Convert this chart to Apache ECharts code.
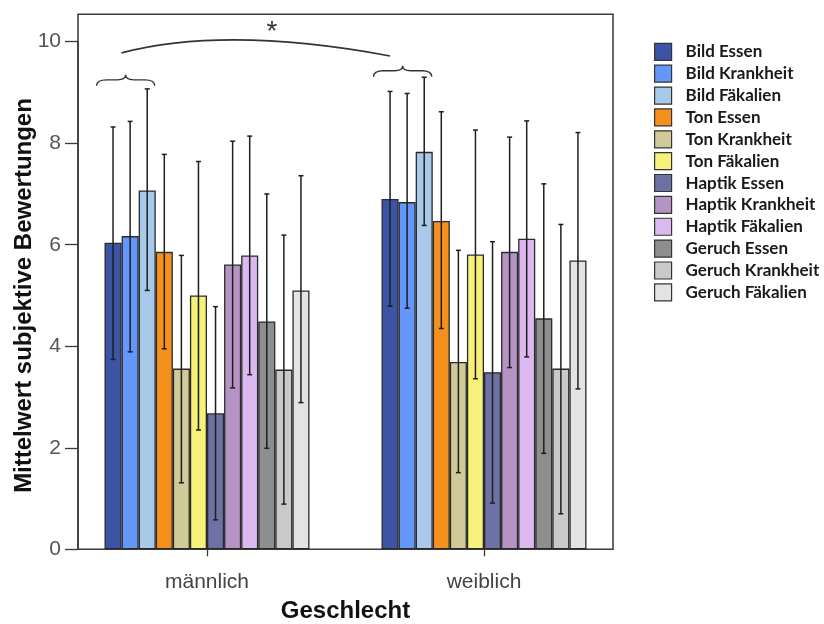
<!DOCTYPE html>
<html>
<head>
<meta charset="utf-8">
<script src="https://cdn.jsdelivr.net/npm/echarts@6/dist/echarts.min.js"></script>
<style>html,body{margin:0;padding:0;background:#fff;}#c{width:824px;height:624px;}</style>
</head>
<body>
<div id="c"></div>
<script>
// ---- data ----
const categories = ['männlich', 'weiblich'];
const seriesNames = ['Bild Essen','Bild Krankheit','Bild Fäkalien','Ton Essen','Ton Krankheit','Ton Fäkalien',
  'Haptik Essen','Haptik Krankheit','Haptik Fäkalien','Geruch Essen','Geruch Krankheit','Geruch Fäkalien'];
const meansMaennlich = [6.04, 6.17, 7.07, 5.86, 3.56, 5.00, 2.68, 5.61, 5.79, 4.49, 3.54, 5.10];
const meansWeiblich  = [6.90, 6.84, 7.83, 6.47, 3.69, 5.81, 3.49, 5.86, 6.12, 4.55, 3.56, 5.69];
const errHighMaennlich = [8.32, 8.43, 9.07, 7.78, 5.79, 7.64, 4.78, 8.04, 8.14, 7.00, 6.19, 7.36];
const errLowMaennlich  = [3.74, 3.89, 5.10, 3.95, 1.31, 2.35, 0.58, 3.18, 3.44, 1.99, 0.89, 2.89];
const errHighWeiblich  = [9.02, 8.98, 9.30, 8.62, 5.89, 8.26, 6.06, 8.12, 8.44, 7.20, 6.40, 8.21];
const errLowWeiblich   = [4.79, 4.75, 6.38, 4.35, 1.51, 3.36, 0.91, 3.58, 3.79, 1.89, 0.70, 3.16];
const yTicks = [0, 2, 4, 6, 8, 10];
// annotation levels (axis values)
const braceLevels = [9.13, 9.31];
const arcLevels = [9.78, 9.72];
const arcControlLevel = 10.32;
const starLevel = 10.31;

// ---- styles ----
const colors = ['#3c54a6','#6397fb','#a8c9e9','#f5901c','#cfca97','#f7f17a',
  '#6e71a4','#b693c5','#dcb8f1','#8e8e8e','#c9c9c9','#e3e3e3'];
const GAP = 0.26;
const N = seriesNames.length;

function barGeom(api, c, s) {
  const base = api.coord([c, 0]);
  const band = api.size([1, 0])[0];
  const groupW = band * (1 - GAP);
  const bw = groupW / N;
  const left = base[0] - groupW / 2 + s * bw;
  return {left: left, right: left + bw, center: left + bw / 2};
}

function errRender(params, api) {
  const c = api.value(0), s = api.value(1);
  const g = barGeom(api, c, s);
  const yh = api.coord([c, api.value(3)])[1];
  const yl = api.coord([c, api.value(2)])[1];
  const st = {stroke: '#1e1e1e', lineWidth: 1.5, fill: null};
  const x = g.center;
  return {type: 'group', children: [
    {type: 'line', shape: {x1: x, y1: yh, x2: x, y2: yl}, style: st},
    {type: 'line', shape: {x1: x - 2.5, y1: yh, x2: x + 2.5, y2: yh}, style: st},
    {type: 'line', shape: {x1: x - 2.5, y1: yl, x2: x + 2.5, y2: yl}, style: st}
  ]};
}

function annoRender(params, api) {
  const children = [];
  const st = {stroke: '#333', lineWidth: 1.4, fill: null};
  for (let c = 0; c < 2; c++) {
    const x0 = barGeom(api, c, 0).left - 8;
    const x1 = barGeom(api, c, 2).right - 1;
    const xc = (x0 + x1) / 2;
    const yb = api.coord([c, braceLevels[c]])[1];
    const ym = yb - 6, yt = yb - 11;
    const d = 'M' + x0 + ' ' + yb + ' Q' + x0 + ' ' + ym + ' ' + (x0 + 10) + ' ' + ym +
      ' L' + (xc - 8) + ' ' + ym + ' Q' + xc + ' ' + ym + ' ' + xc + ' ' + yt +
      ' Q' + xc + ' ' + ym + ' ' + (xc + 8) + ' ' + ym +
      ' L' + (x1 - 10) + ' ' + ym + ' Q' + x1 + ' ' + ym + ' ' + x1 + ' ' + yb;
    children.push({type: 'path', shape: {pathData: d}, style: st});
  }
  const sx = barGeom(api, 0, 1).left;
  const ex = barGeom(api, 1, 0).center;
  const sy = api.coord([0, arcLevels[0]])[1];
  const ey = api.coord([1, arcLevels[1]])[1];
  const cy = api.coord([0, arcControlLevel])[1];
  children.push({type: 'bezierCurve', shape: {x1: sx, y1: sy, x2: ex, y2: ey, cpx1: sx + 0.39 * (ex - sx), cpy1: cy},
    style: {stroke: '#333', lineWidth: 1.6, fill: null}});
  children.push({type: 'text', style: {text: '*', x: sx + 0.56 * (ex - sx), y: api.coord([0, starLevel])[1] + 6,
    fill: '#333', font: '28px "Liberation Sans"', align: 'center', verticalAlign: 'middle'}});
  return {type: 'group', children: children};
}

const barSeries = seriesNames.map((name, s) => ({
  name: name, type: 'bar', xAxisIndex: 0, yAxisIndex: 0,
  data: [meansMaennlich[s], meansWeiblich[s]],
  barGap: '0%', barCategoryGap: (GAP * 100) + '%',
  itemStyle: {color: colors[s], borderColor: '#2a2a2a', borderWidth: 1.3},
  emphasis: {disabled: true}, animation: false
}));

const errData = [];
for (let s = 0; s < N; s++) {
  errData.push([0, s, errLowMaennlich[s], errHighMaennlich[s]]);
  errData.push([1, s, errLowWeiblich[s], errHighWeiblich[s]]);
}

const chart = echarts.init(document.getElementById('c'), null, {renderer: 'canvas'});
chart.setOption({
  animation: false,
  backgroundColor: '#fff',
  grid: [
    {left: 68.5, right: 201.5, top: 41.7, bottom: 74.7, containLabel: false, outerBoundsMode: 'none'},
    {left: 78, right: 211, top: 41.7, bottom: 74.7, containLabel: false, outerBoundsMode: 'none'},
    {left: 78, right: 211, top: 14.3, bottom: 74.7, containLabel: false, outerBoundsMode: 'none',
      show: true, borderColor: '#3a3a3a', borderWidth: 1.5, backgroundColor: 'transparent'}
  ],
  xAxis: [
    {type: 'category', gridIndex: 0, data: categories,
      axisLine: {show: false},
      axisTick: {show: true, alignWithLabel: true, length: 7, lineStyle: {color: '#3a3a3a', width: 1.3}},
      axisLabel: {color: '#444', fontSize: 21, fontFamily: 'Liberation Sans', margin: 22},
      name: 'Geschlecht', nameLocation: 'middle', nameGap: 50, nameMoveOverlap: false,
      nameTextStyle: {color: '#111', fontSize: 24, fontWeight: 'bold', fontFamily: 'Liberation Sans'}},
    {type: 'value', gridIndex: 1, show: false},
    {type: 'value', gridIndex: 2, show: false}
  ],
  yAxis: [
    {type: 'value', gridIndex: 0, min: yTicks[0], max: yTicks[yTicks.length - 1], show: false},
    {type: 'value', gridIndex: 1, min: yTicks[0], max: yTicks[yTicks.length - 1], interval: 2,
      axisLine: {show: true, lineStyle: {color: '#3a3a3a', width: 1.5}},
      axisTick: {show: true, length: 13, lineStyle: {color: '#3a3a3a', width: 1.3}},
      axisLabel: {color: '#555', fontSize: 21, fontFamily: 'Liberation Sans', margin: 17},
      splitLine: {show: false},
      name: 'Mittelwert subjektive Bewertungen', nameLocation: 'middle', nameGap: 42, nameMoveOverlap: false,
      nameTextStyle: {color: '#111', fontSize: 24, fontWeight: 'bold', fontFamily: 'Liberation Sans'}},
    {type: 'value', gridIndex: 2, show: false}
  ],
  legend: {
    orient: 'vertical', left: 654, top: 42.7, padding: 0,
    data: seriesNames, itemWidth: 17, itemHeight: 17, itemGap: 3.67,
    icon: 'rect',
    itemStyle: {borderColor: '#333', borderWidth: 1.2},
    textStyle: {color: '#1a1a1a', fontSize: 17, fontWeight: 'bold', fontFamily: 'Lato', lineHeight: 17, padding: [0, 0, 0, 9]},
    selectedMode: false
  },
  series: barSeries.concat([
    {type: 'custom', name: 'err', xAxisIndex: 0, yAxisIndex: 0, data: errData,
      encode: {x: 0, y: 3}, renderItem: errRender, z: 5, silent: true},
    {type: 'custom', name: 'anno', xAxisIndex: 0, yAxisIndex: 0, data: [[0, 0]],
      encode: {x: 0, y: 1}, renderItem: annoRender, z: 5, silent: true}
  ])
});
</script>
</body>
</html>
